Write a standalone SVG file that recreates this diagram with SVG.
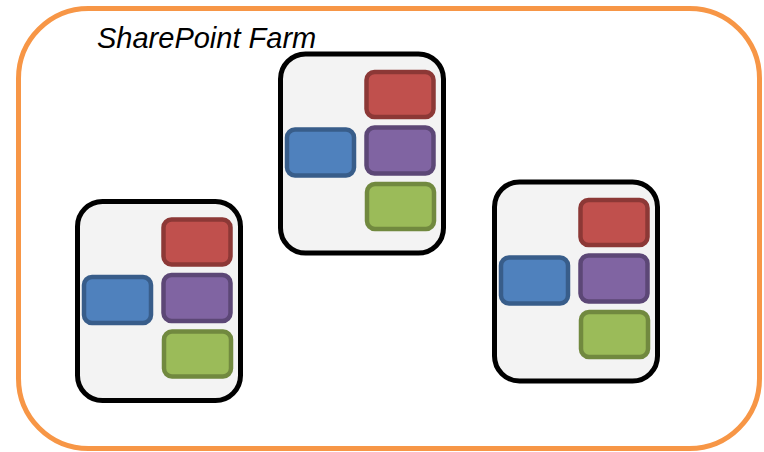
<svg xmlns="http://www.w3.org/2000/svg" width="764" height="452" viewBox="0 0 764 452">
<style>
.farm{fill:#FFFFFF;stroke:#F79646;stroke-width:5}
.srv{fill:#F3F3F3;stroke:#000000;stroke-width:5}
.r{fill:#C0504D;stroke:#8C3836;stroke-width:4.5}
.p{fill:#8064A2;stroke:#5C4776;stroke-width:4.5}
.g{fill:#9BBB59;stroke:#71893F;stroke-width:4.5}
.b{fill:#4F81BD;stroke:#385D8A;stroke-width:4.5}
.lbl{font-family:"Liberation Sans",Arial,sans-serif;font-style:italic;font-size:29px;fill:#000000}
</style>
<defs>
<g id="server">
<rect class="srv" x="0" y="0" width="163" height="199" rx="25"/>
<rect class="r" x="86" y="18" width="67" height="45" rx="8"/>
<rect class="p" x="86" y="73.5" width="67" height="46" rx="8"/>
<rect class="g" x="86.5" y="130" width="67" height="45" rx="8"/>
<rect class="b" x="6.5" y="75.5" width="67" height="46" rx="8"/>
</g>
</defs>
<g id="farm">
<rect class="farm" x="18.5" y="8.5" width="741" height="440" rx="70"/>
<text class="lbl" x="97" y="48">SharePoint Farm</text>
</g>
<g id="connectors"/>
<g id="server-left" transform="translate(77.5,201.5)"><use href="#server"/></g>
<g id="server-middle" transform="translate(280.5,54)"><use href="#server"/></g>
<g id="server-right" transform="translate(494.5,182)"><use href="#server"/></g>
</svg>
